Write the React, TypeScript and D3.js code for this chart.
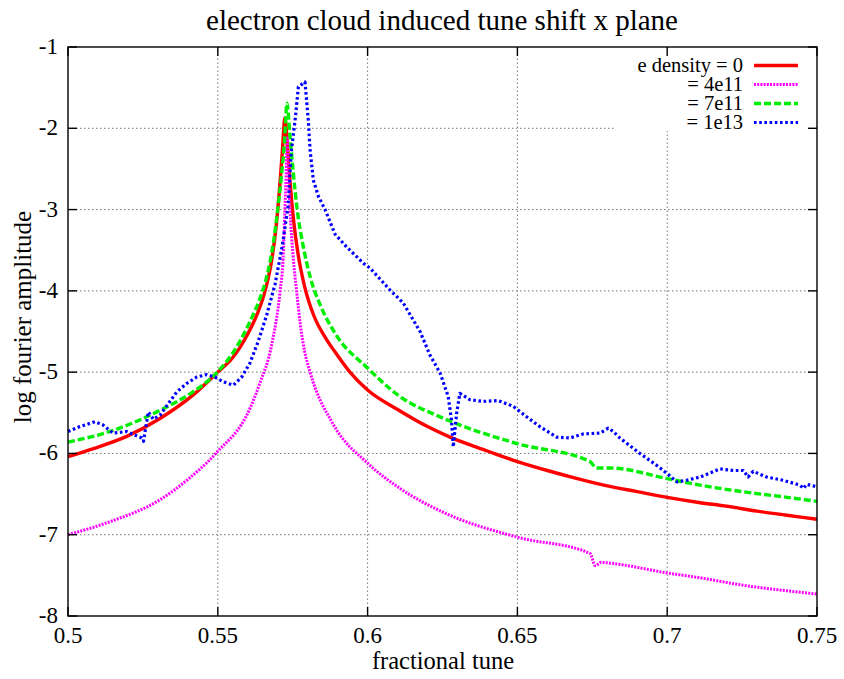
import React, { useEffect, useRef } from 'react';
import * as d3 from 'd3';

// fractional tune vs log fourier amplitude
const densityZero: [number, number][] = [
  [0.5, -6.04], [0.5085, -5.94], [0.5196, -5.79], [0.5307, -5.57], [0.5418, -5.28],
  [0.55, -5.0], [0.555, -4.82], [0.56, -4.53], [0.563, -4.3], [0.566, -3.97],
  [0.568, -3.62], [0.5695, -3.2], [0.5707, -2.7], [0.5716, -2.25], [0.5724, -1.87],
  [0.5733, -2.25], [0.5742, -2.7], [0.5752, -3.1], [0.5768, -3.55], [0.579, -3.95],
  [0.582, -4.3], [0.586, -4.58], [0.5891, -4.75], [0.5941, -5.0], [0.6, -5.22],
  [0.61, -5.46], [0.62, -5.67], [0.6275, -5.8], [0.64, -5.97], [0.65, -6.1],
  [0.66, -6.21], [0.67, -6.31], [0.68, -6.4], [0.69, -6.47], [0.7, -6.54],
  [0.71, -6.6], [0.72, -6.65], [0.73, -6.71], [0.74, -6.76], [0.75, -6.81],
];

const density4e11: [number, number][] = [
  [0.5, -7.0], [0.514, -6.84], [0.5307, -6.57], [0.54, -6.32], [0.5496, -5.99],
  [0.5607, -5.45], [0.564, -5.14], [0.568, -4.66], [0.5708, -4.0], [0.5718, -3.6],
  [0.5724, -3.0], [0.5728, -2.6], [0.5732, -2.12], [0.5736, -2.6], [0.5741, -3.0],
  [0.5752, -3.6], [0.5763, -4.0], [0.5775, -4.4], [0.5789, -4.73], [0.5808, -5.0],
  [0.5885, -5.64], [0.6, -6.12], [0.6108, -6.43], [0.625, -6.72], [0.65, -7.03],
  [0.6742, -7.23], [0.676, -7.38], [0.678, -7.34], [0.681, -7.35], [0.7, -7.47],
  [0.711, -7.53], [0.725, -7.62], [0.74, -7.69], [0.75, -7.73],
];

const density7e11: [number, number][] = [
  [0.5, -5.86], [0.514, -5.73], [0.5307, -5.47], [0.5418, -5.24], [0.5496, -5.01],
  [0.5563, -4.69], [0.5607, -4.38], [0.564, -4.1], [0.5665, -3.8], [0.5685, -3.42],
  [0.57, -3.0], [0.5712, -2.6], [0.5722, -2.2], [0.5731, -1.69], [0.574, -2.05],
  [0.5752, -2.55], [0.5765, -3.0], [0.5785, -3.45], [0.581, -3.85], [0.5845, -4.2],
  [0.5891, -4.52], [0.6, -4.95], [0.6108, -5.3], [0.6242, -5.55], [0.65, -5.88],
  [0.6742, -6.1], [0.6765, -6.18], [0.681, -6.18], [0.7, -6.31], [0.711, -6.39],
  [0.725, -6.47], [0.74, -6.54], [0.75, -6.59],
];

const density1e13: [number, number][] = [
  [0.5, -5.73], [0.504, -5.67], [0.509, -5.61], [0.5117, -5.65], [0.515, -5.75],
  [0.5196, -5.73], [0.5246, -5.81], [0.5252, -5.85], [0.5268, -5.49], [0.5285, -5.58],
  [0.5307, -5.53], [0.534, -5.36], [0.5364, -5.24], [0.5396, -5.14], [0.543, -5.06],
  [0.5463, -5.03], [0.549, -5.06], [0.5519, -5.12], [0.5552, -5.16], [0.558, -5.06],
  [0.5607, -4.89], [0.5635, -4.62], [0.5663, -4.3], [0.5691, -3.92], [0.5715, -3.45],
  [0.5735, -2.95], [0.5745, -2.3], [0.5758, -1.9], [0.5769, -1.49], [0.5791, -1.43],
  [0.5802, -1.9], [0.5808, -2.27], [0.5819, -2.64], [0.5836, -2.84], [0.5858, -3.0],
  [0.5891, -3.3], [0.593, -3.46], [0.5986, -3.66], [0.6008, -3.72], [0.6075, -3.99],
  [0.6119, -4.15], [0.6175, -4.5], [0.6208, -4.79], [0.6242, -5.01], [0.6269, -5.3],
  [0.628, -5.59], [0.6286, -5.92], [0.6297, -5.51], [0.6308, -5.26], [0.6342, -5.34],
  [0.6386, -5.36], [0.6436, -5.35], [0.6486, -5.42], [0.6531, -5.55], [0.6575, -5.67],
  [0.6631, -5.8], [0.6676, -5.81], [0.672, -5.76], [0.6776, -5.75], [0.6803, -5.69],
  [0.682, -5.73], [0.6842, -5.81], [0.6909, -6.0], [0.697, -6.16], [0.7004, -6.26],
  [0.7032, -6.35], [0.7065, -6.33], [0.711, -6.29], [0.7143, -6.24], [0.7176, -6.19],
  [0.722, -6.21], [0.7254, -6.21], [0.727, -6.29], [0.7287, -6.22], [0.7332, -6.29],
  [0.7387, -6.33], [0.7443, -6.39], [0.7455, -6.43], [0.7465, -6.38], [0.75, -6.41],
];

const xTicks = [0.5, 0.55, 0.6, 0.65, 0.7, 0.75];
const xTickLabels = ['0.5', '0.55', '0.6', '0.65', '0.7', '0.75'];
const yTicks = [-1, -2, -3, -4, -5, -6, -7, -8];

const legendLabels = ['e density = 0', '= 4e11', '= 7e11', '= 1e13'];

export default function App() {
  const ref = useRef<SVGSVGElement>(null);

  useEffect(() => {
    const svg = d3.select(ref.current);
    svg.selectAll('*').remove();

    const width = 844;
    const height = 679;
    const margin = { top: 47, right: 27, bottom: 63, left: 68 };
    const font = '"Liberation Serif", "DejaVu Serif", serif';

    const x = d3.scaleLinear().domain([0.5, 0.75]).range([margin.left, width - margin.right]);
    const y = d3.scaleLinear().domain([-8, -1]).range([height - margin.bottom, margin.top]);

    const [x0, x1] = x.range();
    const [y0, y1] = y.range(); // y0 bottom, y1 top

    // grid
    const grid = svg.append('g').attr('stroke', '#777').attr('stroke-width', 1).attr('stroke-dasharray', '1.5,2.5');
    grid.selectAll('.gx').data(xTicks.slice(1, -1)).join('line')
      .attr('x1', (d) => x(d)).attr('x2', (d) => x(d)).attr('y1', y0).attr('y2', y1);
    grid.selectAll('.gy').data(yTicks.slice(1, -1)).join('line')
      .attr('x1', x0).attr('x2', x1).attr('y1', (d) => y(d)).attr('y2', (d) => y(d));

    // key area hides the grid behind it
    svg.append('rect').attr('x', 616).attr('y', y1 + 1).attr('width', x1 - 617).attr('height', 83).attr('fill', '#fff');

    const series = [
      { data: densityZero, color: '#ff0000', width: 3.4, dash: null as string | null, smooth: true },
      { data: density4e11, color: '#ff00ff', width: 3, dash: '2,1.2', smooth: true },
      { data: density7e11, color: '#00ee00', width: 3.4, dash: '7,3', smooth: true },
      { data: density1e13, color: '#0000ff', width: 3.2, dash: '2.6,2.6', smooth: false },
    ];

    const plot = svg.append('g');
    series.forEach((s) => {
      const line = d3.line<[number, number]>()
        .x((d) => x(d[0])).y((d) => y(d[1]))
        .curve(s.smooth ? d3.curveMonotoneX : d3.curveLinear);
      plot.append('path')
        .datum(s.data)
        .attr('d', line)
        .attr('fill', 'none')
        .attr('stroke', s.color)
        .attr('stroke-width', s.width)
        .attr('stroke-linejoin', 'round')
        .attr('stroke-dasharray', s.dash);
    });

    // frame and ticks
    const axes = svg.append('g').attr('stroke', '#000').attr('stroke-width', 1.4);
    axes.append('rect').attr('x', x0).attr('y', y1).attr('width', x1 - x0).attr('height', y0 - y1).attr('fill', 'none');
    const tl = 9;
    xTicks.forEach((t) => {
      axes.append('line').attr('x1', x(t)).attr('x2', x(t)).attr('y1', y0).attr('y2', y0 - tl);
      axes.append('line').attr('x1', x(t)).attr('x2', x(t)).attr('y1', y1).attr('y2', y1 + tl);
    });
    yTicks.forEach((t) => {
      axes.append('line').attr('x1', x0).attr('x2', x0 + tl).attr('y1', y(t)).attr('y2', y(t));
      axes.append('line').attr('x1', x1).attr('x2', x1 - tl).attr('y1', y(t)).attr('y2', y(t));
    });

    const text = svg.append('g').attr('font-family', font).attr('fill', '#000');

    text.selectAll('.xl').data(xTicks).join('text')
      .attr('x', (d) => x(d)).attr('y', y0 + 27)
      .attr('text-anchor', 'middle').attr('font-size', 23)
      .text((d, i) => xTickLabels[i]);

    text.selectAll('.yl').data(yTicks).join('text')
      .attr('x', x0 - 10).attr('y', (d) => y(d) + 7)
      .attr('text-anchor', 'end').attr('font-size', 23)
      .text((d) => String(d));

    text.append('text').attr('x', 442).attr('y', 30).attr('text-anchor', 'middle')
      .attr('font-size', 29).text('electron cloud induced tune shift x plane');

    text.append('text').attr('x', 443).attr('y', 669).attr('text-anchor', 'middle')
      .attr('font-size', 24.5).text('fractional tune');

    text.append('text').attr('transform', 'translate(31,317) rotate(-90)').attr('text-anchor', 'middle')
      .attr('font-size', 25).text('log fourier amplitude');

    // legend
    legendLabels.forEach((label, i) => {
      const ly = 65.5 + i * 19;
      text.append('text').attr('x', 743).attr('y', ly + 6.5).attr('text-anchor', 'end')
        .attr('font-size', 20.5).text(label);
      svg.append('line').attr('x1', 754).attr('x2', 798).attr('y1', ly).attr('y2', ly)
        .attr('stroke', series[i].color).attr('stroke-width', series[i].width)
        .attr('stroke-dasharray', series[i].dash);
    });
  }, []);

  return (
    <svg ref={ref} width={844} height={679} style={{ position: 'absolute', left: 0, top: 0, background: '#fff' }} />
  );
}
